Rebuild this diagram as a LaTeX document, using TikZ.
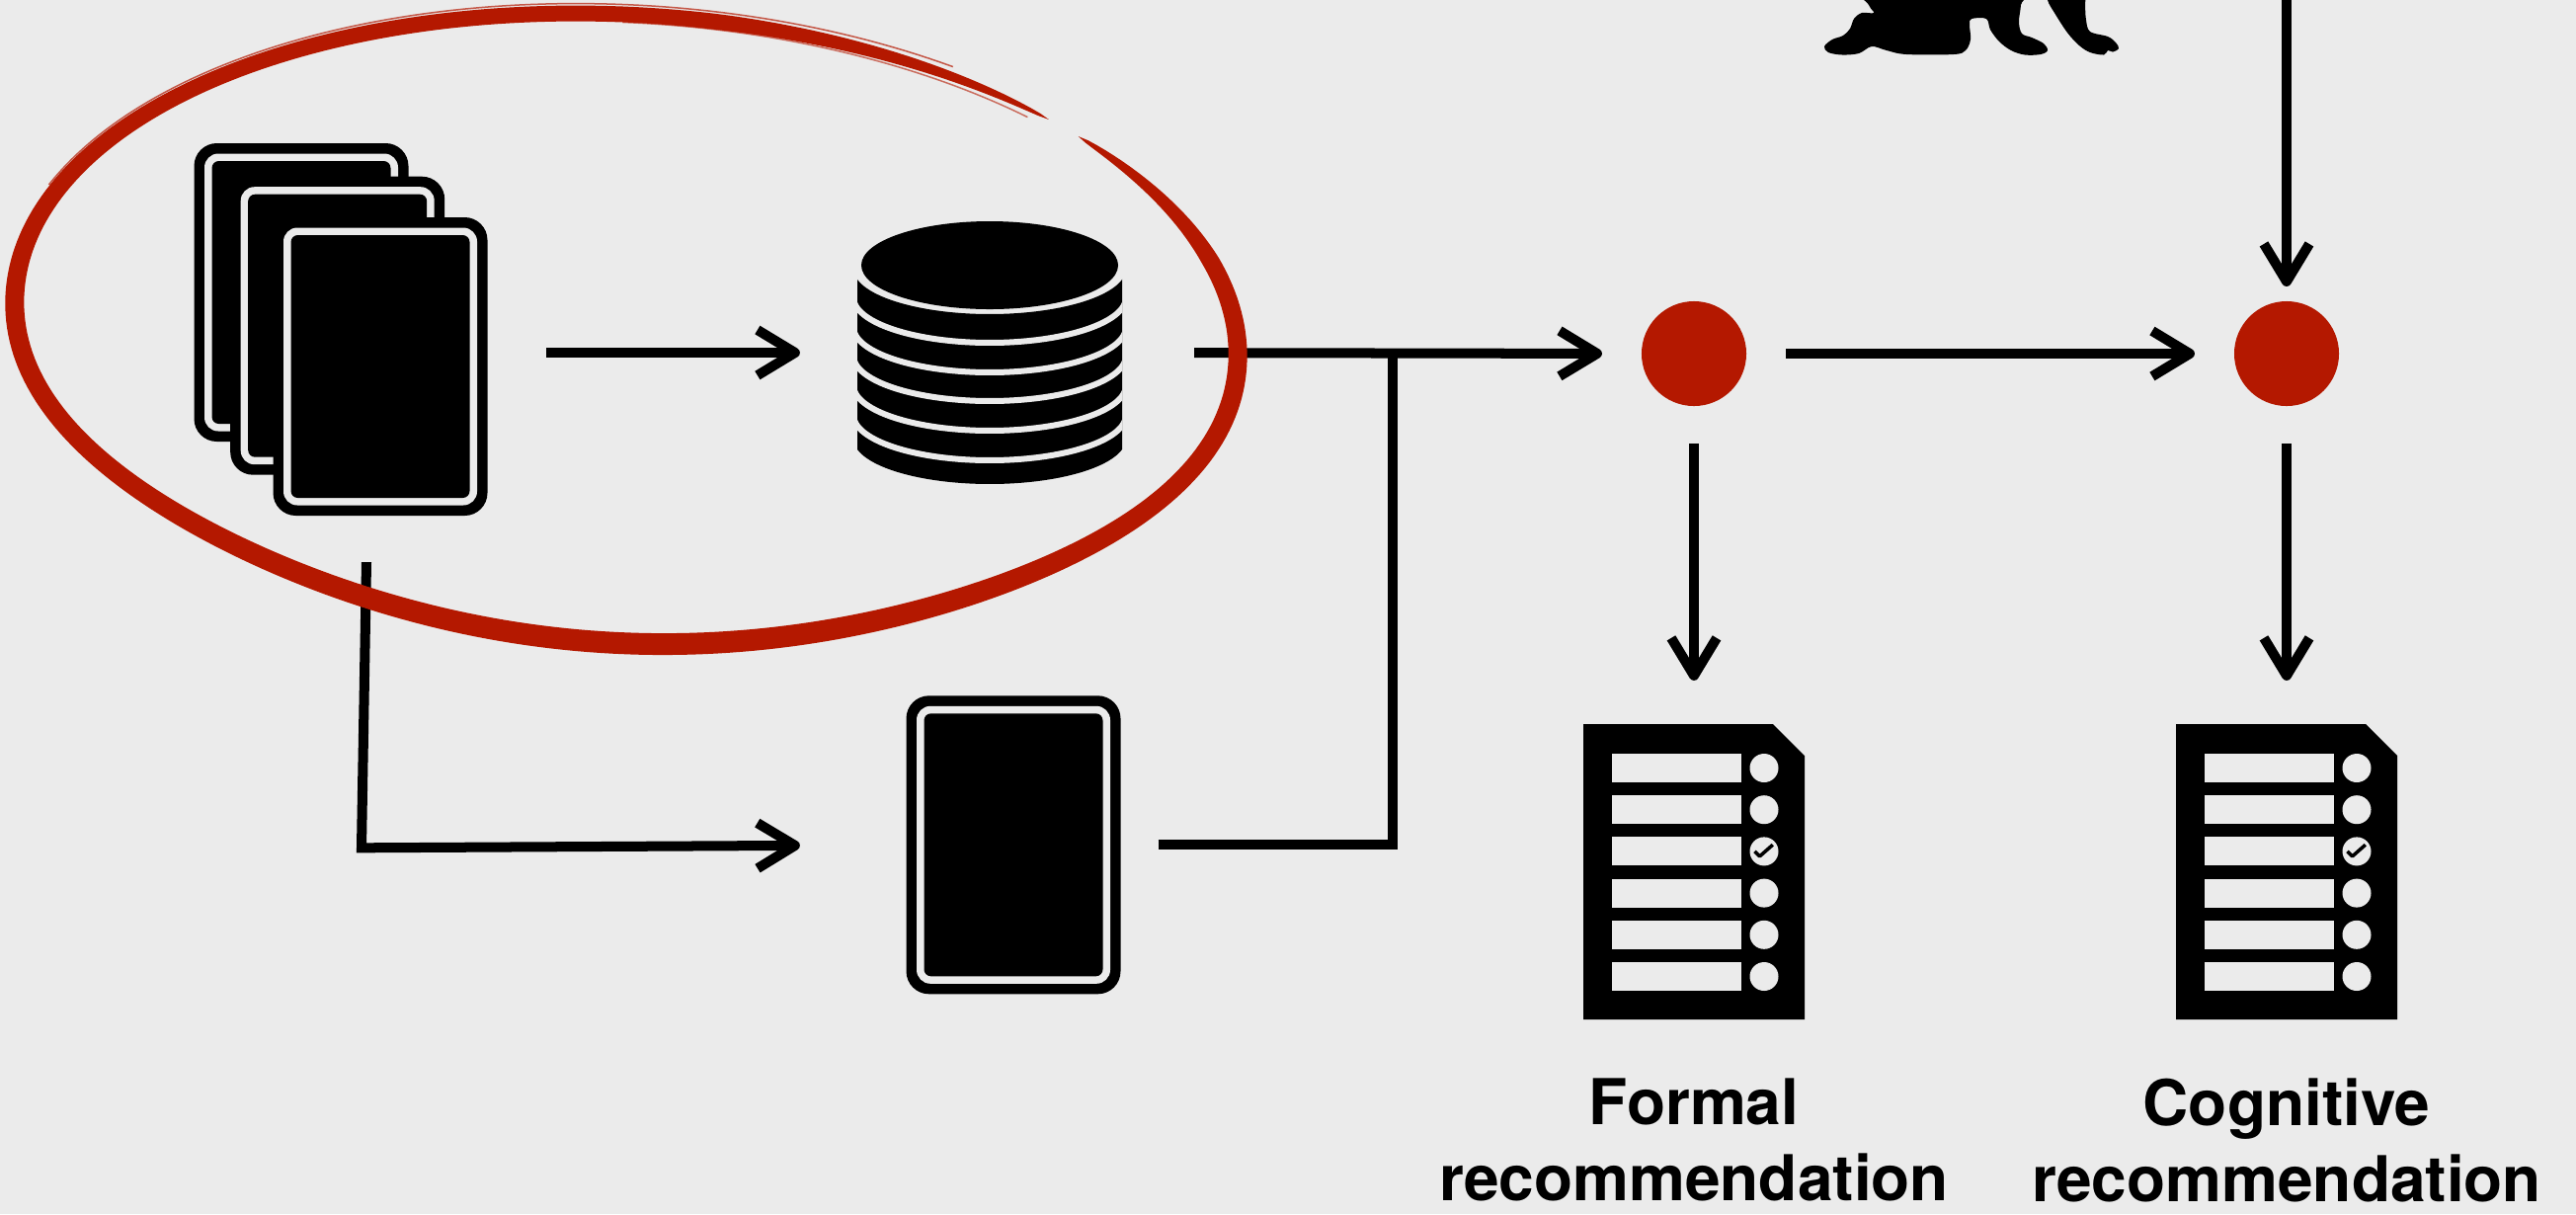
\documentclass[tikz,border=0pt]{standalone}
\usepackage{fontspec}
\newfontfamily\lblfont{TeX Gyre Heros}
\usetikzlibrary{arrows.meta,calc}
\definecolor{bg}{RGB}{235,235,235}
\definecolor{accent}{RGB}{180,24,0}

\begin{document}
\begin{tikzpicture}[
  x=0.01cm, y=-0.01cm,
  >={Straight Barb[length=0.38cm,width=0.46cm,line join=round]},
  conn/.style={line width=0.1cm, black},
  iconbox/.style={draw=none, inner sep=0pt, outer sep=0pt, rectangle},
  hub/.style={circle, fill=accent, inner sep=0pt, outer sep=0pt, minimum size=1.06cm},
  lbl/.style={align=center, inner sep=0pt, font=\lblfont\bfseries\fontsize{18.2pt}{21.9pt}\selectfont},
  declare function={
    rw(\t)=0.5*(19+3*sin(\t))*sqrt(max(0,min(1,(\t+44)/25)))*sqrt(max(0,min(1,(312-\t)/35)));
    sq(\t)=1-0.03*max(0,sin(\t))*(sin(2*\t))^2;
    ox(\t,\h)=634+(620*sq(\t)+\h)*cos(\t)*cos(3.3)-(318*sq(\t)+\h)*sin(\t)*sin(3.3);
    oy(\t,\h)=333+(620*sq(\t)+\h)*cos(\t)*sin(3.3)+(318*sq(\t)+\h)*sin(\t)*cos(3.3);
  },
  cardicon/.pic={
    \fill[black, rounded corners=0.23cm] (-108.5,-151) rectangle (108.5,151);
    \fill[bg, rounded corners=0.14cm] (-98,-140.5) rectangle (98,140.5);
    \fill[black, rounded corners=0.07cm] (-90.5,-133) rectangle (90.5,133);
  },
  docicon/.pic={
    \fill[black] (-112,-149.5) -- (80,-149.5) -- (112,-117.5) -- (112,149.5) -- (-112,149.5) -- cycle;
    \foreach \r in {0,...,5}{
      \fill[bg] (-83,-119.5+42.2*\r) rectangle (48,-90.5+42.2*\r);
      \fill[bg] (71,-105+42.2*\r) circle (14.5);
    }
    \draw[black, line width=0.035cm, line join=round] (61.5,-20.6) -- (66.5,-15.6) -- (79.8,-27.3);
  },
]
% canvas
\fill[bg] (0,0) rectangle (2608,1229);
\useasboundingbox (0,0) rectangle (2608,1229);

% placeholders for the icons
\node[iconbox, minimum width=2.96cm, minimum height=3.77cm] (stack) at (345,333.5) {};
\node[iconbox, minimum width=2.68cm, minimum height=2.66cm] (db) at (1002,357) {};
\node[iconbox, minimum width=2.17cm, minimum height=3.03cm] (card) at (1026,855.3) {};
\node[iconbox, minimum width=2.24cm, minimum height=2.99cm] (doc1) at (1715,882.5) {};
\node[iconbox, minimum width=2.24cm, minimum height=2.99cm] (doc2) at (2315,882.5) {};
\node[hub] (dot1) at (1715,358) {};
\node[hub] (dot2) at (2315,358) {};

% stacked cards
\pic at (305,296) {cardicon};
\pic at (341.7,329.7) {cardicon};
\pic at (385,371) {cardicon};
% single card
\pic at (card) {cardicon};

% database
\begin{scope}
  \clip (868,200) rectangle (1136,520);
  \fill[black] plot[domain=180:0,samples=50] ({1002+138*cos(\x)},{272+46*sin(\x)})
    -- plot[domain=0:180,samples=50] ({1002+138*cos(\x)},{444+46*sin(\x)}) -- cycle;
  \foreach \c in {301,331,360,390,420}
    \draw[bg, line width=0.06cm] plot[domain=0:180,samples=50] ({1002+138*cos(\x)},{\c+46*sin(\x)});
\end{scope}
\fill[black] (1002,268.5) ellipse [x radius=130, y radius=44.5];

% checklists
\pic at (doc1) {docicon};
\pic at (doc2) {docicon};

% silhouette at the top edge
\fill[black] plot[smooth cycle, tension=0.55] coordinates {
  (1884,-20) (1892,5) (1897,13) (1885,13) (1877,19) (1873,29) (1866,36) (1855,40)
  (1847,47) (1851,53) (1865,55.5) (1882,54) (1895,47) (1910,51) (1930,55) (1978,55)
  (1990,51) (1995,40) (1994,25) (1996,19) (2011,19) (2015,30) (2024,42) (2036,51)
  (2050,55.5) (2066,55) (2073,51) (2069,44) (2057,38) (2047,34) (2044,22) (2046,5) (2047,-20)};
\fill[black] plot[smooth cycle, tension=0.55] coordinates {
  (2070,-20) (2073,0) (2080,13) (2093,33) (2105,46) (2116,53) (2130,55.5) (2134,51)
  (2139,52.5) (2145,49) (2142,43) (2134,37) (2116,32) (2112,20) (2111,5) (2110,-20)};

% labels
\node[lbl, anchor=north] (lab1) at (1715,1091) {Formal\\recommendation};
\node[lbl, anchor=north] (lab2) at (2315,1091) {Cognitive\\recommendation};

% connectors
\coordinate (join) at (1410,358);
\coordinate (topin) at (2315,-10);
\draw[conn,->,shorten <=0.6cm,shorten >=0.58cm] (stack.east |- db.west) -- (db.west);
\draw[conn,->,shorten <=0.73cm,shorten >=0.4cm] (db.east) -- (dot1.west);
\draw[conn,shorten <=0.38cm] (card.east) -- (card.east -| join) -- (join);
\draw[conn,->,shorten >=1.075cm] ($(stack.south)+(26,47)$) -- ($(stack.south |- card.west)+(21,3)$) -- (card.west);
\draw[conn,->,shorten <=0.4cm,shorten >=0.4cm] (dot1.east) -- (dot2.west);
\draw[conn,->,shorten <=0.38cm,shorten >=0.44cm] (dot1.south) -- (doc1.north);
\draw[conn,->,shorten <=0.38cm,shorten >=0.44cm] (dot2.south) -- (doc2.north);
\draw[conn,->,shorten >=0.15cm] (topin) -- (dot2.north);

% hand-drawn brush loop around the sources
\fill[accent] plot[domain=-44:312,samples=300] ({ox(\x,rw(\x))},{oy(\x,rw(\x))})
  -- plot[domain=312:-44,samples=300] ({ox(\x,-rw(\x))},{oy(\x,-rw(\x))}) -- cycle;
\draw[accent, line width=0.015cm, opacity=0.7] plot[domain=200:300,samples=80] ({ox(\x,10)},{oy(\x,10)});
\draw[accent, line width=0.015cm, opacity=0.6] plot[domain=268:310,samples=40] ({ox(\x,-8)},{oy(\x,-8)});
\end{tikzpicture}
\end{document}
